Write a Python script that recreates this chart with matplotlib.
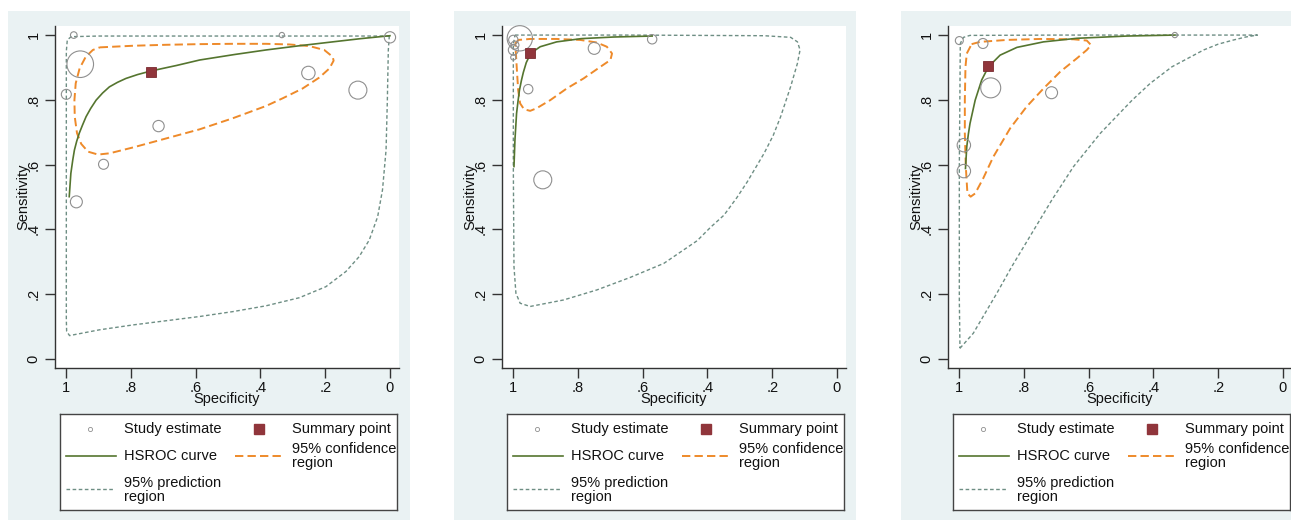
import matplotlib.pyplot as plt
from matplotlib.patches import Rectangle

plt.rcParams['font.family'] = ['Liberation Sans', 'DejaVu Sans']
plt.rcParams['lines.scale_dashes'] = False

# ---- panel A ----
study_spec_a = [0.977, 0.334, 0.0, 0.957, 1.0, 0.252, 0.099, 0.715, 0.885, 0.969]
study_sens_a = [1.0, 1.0, 0.993, 0.910, 0.817, 0.883, 0.830, 0.719, 0.601, 0.485]
study_w_a = [11, 7, 32, 177, 25, 45, 81, 32, 25, 36]
summary_a = (0.737, 0.887)
hsroc_spec_a = [0.991, 0.986, 0.980, 0.975, 0.968, 0.960, 0.950, 0.939, 0.925, 0.908,
                0.888, 0.867, 0.842, 0.816, 0.780, 0.739, 0.660, 0.588, 0.480, 0.383,
                0.280, 0.177, 0.090, 0.0]
hsroc_sens_a = [0.501, 0.573, 0.615, 0.645, 0.672, 0.697, 0.722, 0.748, 0.773, 0.799,
                0.821, 0.840, 0.854, 0.866, 0.878, 0.889, 0.906, 0.923, 0.940, 0.954,
                0.967, 0.979, 0.989, 0.998]
ci_spec_a = [0.897, 0.794, 0.691, 0.588, 0.486, 0.383, 0.311, 0.249, 0.203, 0.177, 0.174,
             0.187, 0.218, 0.270, 0.331, 0.383, 0.486, 0.588, 0.691, 0.794, 0.866, 0.902,
             0.933, 0.954, 0.967, 0.974, 0.975, 0.971, 0.959, 0.940, 0.918, 0.897]
ci_sens_a = [0.962, 0.967, 0.970, 0.972, 0.973, 0.973, 0.971, 0.966, 0.954, 0.933, 0.921,
             0.897, 0.869, 0.835, 0.805, 0.781, 0.743, 0.709, 0.681, 0.653, 0.635, 0.631,
             0.640, 0.664, 0.697, 0.748, 0.799, 0.851, 0.897, 0.933, 0.954, 0.962]
pr_spec_a = [0.002, 0.30, 0.60, 0.90, 0.985, 0.997, 1.0, 1.0, 1.0, 0.999, 0.990, 0.975,
             0.897, 0.794, 0.691, 0.588, 0.486, 0.383, 0.280, 0.198, 0.136, 0.095, 0.064,
             0.038, 0.023, 0.012, 0.008, 0.005, 0.002]
pr_sens_a = [0.997, 0.997, 0.997, 0.997, 0.995, 0.985, 0.95, 0.5, 0.12, 0.085, 0.072, 0.075,
             0.090, 0.105, 0.118, 0.131, 0.146, 0.164, 0.189, 0.223, 0.270, 0.316, 0.367,
             0.439, 0.522, 0.645, 0.799, 0.954, 0.997]

# ---- panel B ----
study_spec_b = [0.980, 1.0, 1.0, 0.995, 1.0, 0.750, 0.954, 0.571, 0.909]
study_sens_b = [0.990, 0.985, 0.954, 0.969, 0.931, 0.959, 0.833, 0.987, 0.553]
study_w_b = [160, 22, 25, 16, 7, 36, 22, 22, 81]
summary_b = (0.948, 0.945)
hsroc_spec_b = [0.998, 0.995, 0.990, 0.985, 0.981, 0.975, 0.969, 0.960, 0.948, 0.930,
                0.917, 0.866, 0.790, 0.690, 0.571]
hsroc_sens_b = [0.594, 0.676, 0.758, 0.800, 0.830, 0.860, 0.885, 0.915, 0.940, 0.955,
                0.964, 0.979, 0.989, 0.994, 0.997]
ci_spec_b = [0.994, 0.984, 0.948, 0.866, 0.793, 0.742, 0.711, 0.695, 0.700, 0.731, 0.783,
             0.835, 0.886, 0.928, 0.948, 0.967, 0.979, 0.985, 0.989, 0.992, 0.994]
ci_sens_b = [0.974, 0.985, 0.988, 0.988, 0.985, 0.977, 0.964, 0.943, 0.923, 0.902, 0.866,
             0.835, 0.799, 0.774, 0.766, 0.771, 0.789, 0.830, 0.892, 0.943, 0.974]
pr_spec_b = [0.995, 0.85, 0.64, 0.43, 0.225, 0.143, 0.122, 0.114, 0.122, 0.143, 0.174,
             0.197, 0.225, 0.277, 0.31, 0.349, 0.39, 0.432, 0.535, 0.638, 0.742, 0.845,
             0.948, 0.979, 0.992, 0.998, 1.0, 1.0, 0.995]
pr_sens_b = [1.0, 1.0, 1.0, 0.999, 0.998, 0.993, 0.979, 0.954, 0.913, 0.841, 0.748,
             0.690, 0.635, 0.547, 0.497, 0.444, 0.407, 0.365, 0.295, 0.252, 0.213, 0.182,
             0.162, 0.172, 0.203, 0.285, 0.594, 0.97, 1.0]

# ---- panel C ----
study_spec_c = [1.0, 0.927, 0.334, 0.903, 0.715, 0.986, 0.986]
study_sens_c = [0.983, 0.974, 1.0, 0.837, 0.822, 0.660, 0.580]
study_w_c = [16, 25, 7, 100, 36, 45, 45]
summary_c = (0.910, 0.904)
hsroc_spec_c = [0.981, 0.977, 0.972, 0.967, 0.951, 0.931, 0.910, 0.874, 0.822, 0.740,
                0.637, 0.482, 0.334]
hsroc_sens_c = [0.588, 0.655, 0.695, 0.727, 0.799, 0.861, 0.902, 0.938, 0.962, 0.979,
                0.990, 0.997, 1.0]
ci_spec_c = [0.962, 0.936, 0.853, 0.750, 0.647, 0.606, 0.593, 0.606, 0.637, 0.688, 0.740,
             0.792, 0.843, 0.895, 0.926, 0.951, 0.965, 0.975, 0.980, 0.983, 0.983, 0.981,
             0.977, 0.962]
ci_sens_c = [0.972, 0.979, 0.985, 0.988, 0.987, 0.983, 0.969, 0.954, 0.928, 0.887, 0.835,
             0.779, 0.712, 0.624, 0.558, 0.511, 0.501, 0.511, 0.594, 0.697, 0.799, 0.902,
             0.943, 0.972]
pr_spec_c = [0.998, 0.957, 0.884, 0.838, 0.776, 0.714, 0.647, 0.564, 0.466, 0.410, 0.343,
             0.245, 0.200, 0.152, 0.115, 0.079, 0.276, 0.688, 0.967, 0.987, 0.997, 1.0,
             1.0, 0.998]
pr_sens_c = [0.033, 0.079, 0.203, 0.285, 0.388, 0.491, 0.594, 0.697, 0.799, 0.851, 0.902,
             0.954, 0.972, 0.985, 0.994, 1.0, 1.0, 1.0, 0.999, 0.993, 0.974, 0.594,
             0.182, 0.033]

yticks = [0, 0.2, 0.4, 0.6, 0.8, 1.0]
tick_labels = ['0', '.2', '.4', '.6', '.8', '1']

# stata s2color-ish palette
BG = '#eaf2f3'
C_STUDY = '#8f8f8f'
C_SUMM = '#90353b'
C_HSROC = '#55752f'
C_CI = '#ee8a2a'
C_PR = '#6e8e84'
CI_DASH = (0, (6.0, 3.0))
PR_DASH = (0, (2.6, 1.8))

W, H = 1291, 523


def frac(l, t, r, b):
    # pixel box -> figure fraction rect
    return [l / W, 1 - b / H, (r - l) / W, (b - t) / H]


fig = plt.figure(figsize=(W / 100, H / 100), dpi=100)

# grey graph regions behind each panel
for l, r in [(8, 410), (454, 856), (901, 1310)]:
    fig.add_artist(Rectangle((l / W, 1 - 520 / H), (r - l) / W, (520 - 11) / H,
                             transform=fig.transFigure, facecolor=BG, edgecolor='none', zorder=0))

panels = [
    (55, study_spec_a, study_sens_a, study_w_a, summary_a, hsroc_spec_a, hsroc_sens_a,
     ci_spec_a, ci_sens_a, pr_spec_a, pr_sens_a),
    (502, study_spec_b, study_sens_b, study_w_b, summary_b, hsroc_spec_b, hsroc_sens_b,
     ci_spec_b, ci_sens_b, pr_spec_b, pr_sens_b),
    (948, study_spec_c, study_sens_c, study_w_c, summary_c, hsroc_spec_c, hsroc_sens_c,
     ci_spec_c, ci_sens_c, pr_spec_c, pr_sens_c),
]

for (left, s_spec, s_sens, s_w, summ, h_spec, h_sens, c_spec, c_sens, p_spec, p_sens) in panels:
    ax = fig.add_axes(frac(left, 26, left + 344, 368))
    ax.set_facecolor('white')

    ax.plot(p_spec, p_sens, color=C_PR, lw=1.0, linestyle=PR_DASH, zorder=2)
    ax.plot(c_spec, c_sens, color=C_CI, lw=1.4, linestyle=CI_DASH, zorder=3)
    ax.plot(h_spec, h_sens, color=C_HSROC, lw=1.2, zorder=4)
    ax.scatter(s_spec, s_sens, s=[2.07 * w for w in s_w], facecolors='none',
               edgecolors=C_STUDY, linewidths=0.8, zorder=5, clip_on=False)
    ax.plot([summ[0]], [summ[1]], marker='s', markersize=7, color=C_SUMM,
            markeredgecolor='#7a2a30', markeredgewidth=0.6, zorder=6)

    ax.set_xlim(1.035, -0.028)
    ax.set_ylim(-0.028, 1.028)
    ax.set_xticks(yticks)
    ax.set_xticklabels(tick_labels)
    ax.set_yticks(yticks)
    ax.set_yticklabels(tick_labels, rotation=90, va='center')
    for sp in ['top', 'right']:
        ax.spines[sp].set_visible(False)
    for sp in ['left', 'bottom']:
        ax.spines[sp].set_color('#333333')
        ax.spines[sp].set_linewidth(1.0)
    ax.tick_params(direction='out', length=7, width=1, color='#333333',
                   labelsize=10.5, labelcolor='#111111')
    ax.tick_params(axis='x', pad=2)
    ax.tick_params(axis='y', pad=3.5)

    ax.text(0.5, -31 / 342, 'Specificity', transform=ax.transAxes, ha='center',
            va='center', fontsize=10.5, color='#111111')
    ax.text(-32 / 344, 0.5, 'Sensitivity', transform=ax.transAxes, ha='center',
            va='center', rotation=90, fontsize=10.5, color='#111111')

    # legend box, drawn in local pixel units
    lg = fig.add_axes(frac(left + 5, 414, left + 342, 510))
    lg.set_xlim(0, 337)
    lg.set_ylim(96, 0)
    lg.set_xticks([])
    lg.set_yticks([])
    lg.set_facecolor('white')
    for sp in lg.spines.values():
        sp.set_color('#444444')
        sp.set_linewidth(1.0)
    lg.plot([30], [15], marker='o', markersize=3, markerfacecolor='none',
            markeredgecolor=C_STUDY, markeredgewidth=0.6)
    lg.plot([199], [15], marker='s', markersize=7, color=C_SUMM)
    lg.plot([6, 56], [42, 42], color=C_HSROC, lw=1.2)
    lg.plot([175, 223], [42, 42], color=C_CI, lw=1.4, linestyle=CI_DASH)
    lg.plot([6, 53], [75, 75], color=C_PR, lw=1.0, linestyle=PR_DASH)
    kw = dict(fontsize=10.5, va='center', ha='left', color='#111111', linespacing=0.95)
    lg.text(64, 15, 'Study estimate', **kw)
    lg.text(232, 15, 'Summary point', **kw)
    lg.text(64, 42, 'HSROC curve', **kw)
    lg.text(232, 42, '95% confidence\nregion', **kw)
    lg.text(64, 76, '95% prediction\nregion', **kw)

fig.savefig('out.png', dpi=100, facecolor='white')
